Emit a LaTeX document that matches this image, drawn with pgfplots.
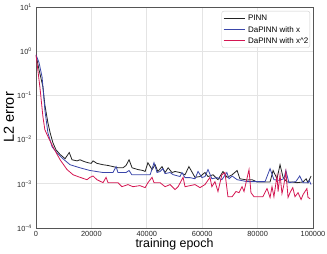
\documentclass[border=0pt]{standalone}
\usepackage{fontspec}
\setmainfont{Liberation Sans}
\usepackage{pgfplots}
\usepackage{pgfplotstable}
\pgfplotsset{compat=1.18}
\definecolor{cpinn}{RGB}{35,35,35}
\definecolor{cblue}{RGB}{58,70,170}
\definecolor{cred}{RGB}{212,22,82}
\definecolor{cgrid}{RGB}{228,228,228}
\definecolor{cframe}{RGB}{85,85,85}

\pgfplotstableread{
x y
0 0.83
1100 0.38
2500 0.156
3200 0.061
4300 0.024
5100 0.0143
6100 0.0085
7200 0.0059
8700 0.0046
10500 0.0037
12000 0.0051
13000 0.0035
14800 0.0033
15900 0.0035
17300 0.0032
18800 0.0030
19900 0.0029
20600 0.0033
22000 0.0029
24200 0.0027
26000 0.0026
27800 0.00245
29600 0.0023
31400 0.0023
32500 0.0026
33600 0.0035
34700 0.0023
36800 0.0021
38600 0.0020
39400 0.0019
40400 0.0030
41900 0.0021
43000 0.0027
44000 0.0019
45500 0.00245
46600 0.0018
47700 0.0023
49100 0.0018
50200 0.0019
52000 0.0018
53800 0.0016
55200 0.00245
57400 0.0014
59200 0.00146
61000 0.0018
62100 0.00146
63900 0.0016
65700 0.00124
67500 0.0019
69000 0.0014
70800 0.0016
72600 0.0020
73600 0.0013
76200 0.00122
78000 0.00124
79800 0.0011
81900 0.0011
84500 0.0011
85600 0.0020
87000 0.0013
88100 0.0027
89200 0.0014
90600 0.0011
92400 0.0011
94200 0.00106
96400 0.0011
97500 0.0013
98200 0.00106
99300 0.0015
}\pinn

\pgfplotstableread{
x y
0 0.83
1100 0.55
2200 0.26
3200 0.047
4300 0.0143
5800 0.0069
7600 0.0050
9700 0.0037
12300 0.0027
15900 0.0023
19500 0.0020
24200 0.0018
27800 0.0018
28900 0.00245
29600 0.0018
32500 0.0018
33600 0.0020
34600 0.0016
36800 0.0016
39700 0.00161
41200 0.0016
42600 0.0030
43700 0.0018
44800 0.0019
45800 0.0022
46600 0.0017
48400 0.0018
49500 0.00161
52000 0.00146
52700 0.0018
53800 0.00138
55600 0.00138
57400 0.0013
58500 0.0019
59900 0.00138
61000 0.00146
62100 0.0021
63500 0.0013
65300 0.00138
67100 0.00124
68900 0.0018
69700 0.0013
70800 0.0015
72600 0.00124
76200 0.00112
79800 0.00112
82700 0.00112
84500 0.0022
85900 0.00124
87700 0.0012
89500 0.0013
90200 0.0020
91300 0.00106
93800 0.00112
95200 0.0015
96400 0.00106
98200 0.00106
98600 0.0012
99300 0.00096
}\dax

\pgfplotstableread{
x y
0 0.83
1400 0.156
2500 0.033
3200 0.0167
4300 0.0118
6100 0.0069
8700 0.0035
11200 0.0021
13400 0.0016
15900 0.0014
18400 0.00124
19500 0.0014
20600 0.0015
22000 0.00124
24200 0.00106
25300 0.0014
26000 0.00106
27800 0.00106
29600 0.00106
31000 0.00086
33200 0.00096
35000 0.00086
37500 0.00091
39400 0.00082
40400 0.00106
41900 0.0014
42600 0.00106
44800 0.00106
46600 0.00086
48400 0.00096
50200 0.00074
51300 0.00086
53100 0.0014
53800 0.00086
57400 0.00096
59200 0.00082
61000 0.00096
62800 0.0014
63500 0.00086
64600 0.00112
65700 0.00067
67100 0.0016
68200 0.0018
69300 0.00051
70800 0.00051
72200 0.00067
73300 0.00063
74400 0.00086
75100 0.00067
76900 0.0021
77600 0.00063
78700 0.00051
81900 0.00051
83400 0.00078
84500 0.00049
85200 0.00086
85900 0.00051
87000 0.0015
87400 0.00067
88100 0.0016
88800 0.00060
89500 0.00096
90200 0.0019
91000 0.00049
91700 0.00063
92700 0.00082
93500 0.00051
94600 0.00063
95700 0.00044
96400 0.00057
97800 0.00078
98200 0.00049
99000 0.00046
}\daxx

\begin{document}
\begin{tikzpicture}
\path[use as bounding box] (-36pt,-26pt) rectangle (291pt,228pt);
\begin{axis}[
  at={(0pt,0pt)}, anchor=south west,
  scale only axis, width=277pt, height=221pt,
  ymode=log,
  xmin=0, xmax=100000, ymin=1e-4, ymax=10,
  xtick={0,20000,40000,60000,80000,100000},
  xticklabels={0,20000,40000,60000,80000,100000},
  ytick={1e-4,1e-3,1e-2,1e-1,1,10},
  yticklabels={10\textsuperscript{−4},10\textsuperscript{−3},10\textsuperscript{−2},10\textsuperscript{−1},10\textsuperscript{0},10\textsuperscript{1}},
  minor tick num=0,
  yminorticks=false,
  major tick length=0pt,
  scaled x ticks=false,
  grid=major,
  major grid style={cgrid, line width=0.8pt},
  axis line style={cframe, line width=0.8pt},
  tick label style={font=\fontsize{7.4}{8}\selectfont, text=black!85},
  xticklabel style={anchor=north, inner sep=0pt, yshift=-3pt},
  yticklabel style={anchor=east, inner sep=0pt, xshift=-4pt},
  xlabel={training epoch},
  ylabel={L2 error},
  every axis x label/.style={font=\fontsize{12.4}{14}\selectfont, at={(axis description cs:0.5,0)}, anchor=base, yshift=-19pt, inner sep=0pt},
  every axis y label/.style={font=\fontsize{14.5}{16}\selectfont, at={(axis description cs:-0.0975,0.5)}, anchor=center, rotate=90, inner sep=0pt},
  legend cell align=left,
  legend image code/.code={\path (0pt,0pt) -- (21pt,0pt); \draw[#1] (3.5pt,0pt) -- (18.5pt,0pt);},
  legend style={
    at={(axis description cs:1,1)}, anchor=north east, xshift=-3pt, yshift=-4pt,
    font=\fontsize{8}{9}\selectfont,
    draw=black!20, fill=white, rounded corners=2pt,
    inner xsep=1.5pt, inner ysep=4pt,
    nodes={inner sep=0pt, text height=5.7pt, text depth=0pt, anchor=west},
    row sep=5.6pt,
    /tikz/every odd column/.append style={column sep=3pt},
    /tikz/every even column/.append style={column sep=3pt},
  },
]
\addplot[cpinn, line width=0.8pt] table[x=x,y=y] {\pinn};
\addlegendentry{PINN}
\addplot[cblue, line width=0.8pt] table[x=x,y=y] {\dax};
\addlegendentry{DaPINN with x}
\addplot[cred, line width=0.8pt] table[x=x,y=y] {\daxx};
\addlegendentry{DaPINN with x\^{}2}
\end{axis}
\end{tikzpicture}
\end{document}
